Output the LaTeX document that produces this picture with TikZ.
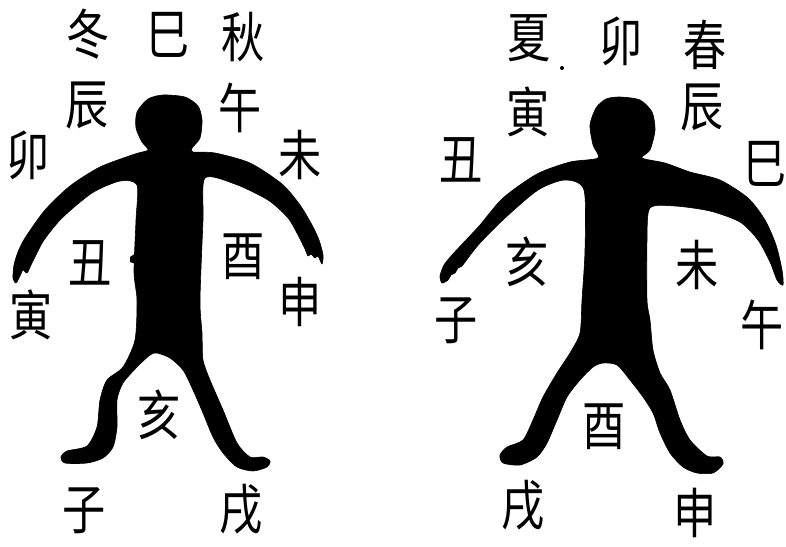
\documentclass[tikz,border=0pt]{standalone}
\usepackage{fontspec}
\newfontfamily\cjk[FakeStretch=0.8]{Noto Sans CJK SC}
\tikzset{
  glyph/.style={font=\cjk\fontsize{54}{54}\selectfont, inner sep=0pt, anchor=center},
  body/.style={fill=black, draw=black, line width=0.6pt, line join=round}
}
\begin{document}
\begin{tikzpicture}[x=1pt,y=-1pt]
\useasboundingbox (0,0) rectangle (786,546);

% ---------- left figure ----------
\fill[body] plot[smooth cycle, tension=0.45] coordinates {
  (163,95) (185,97) (198,106) (202,120) (200,138) (192,148) (193,152)
  (215,153) (250,163) (282,184) (300,205) (312,225) (319,240) (323,255)
  (322,264) (318,256) (315,258) (311,254) (308,256) (305,249)
  (298,235) (288,218) (268,200) (235,184) (205,178)
  (203,220) (200,300) (202,333) (203,360) (210,380) (223,410) (237,443)
  (250,457) (263,457) (270,461) (267,467) (253,471) (237,467) (223,453)
  (213,437) (203,413) (193,390) (183,370) (170,358) (157,353) (150,355)
  (137,367) (123,383) (117,400) (117,427) (113,447) (103,458) (87,463)
  (65,463) (61,457) (67,451) (87,446) (97,427) (100,400) (107,380)
  (123,367) (135,340) (137,300) (134,272) (136,220) (137,185)
  (120,181) (92,193) (62,218) (44,240) (36,255) (31,265) (27,273)
  (23,270) (20,276) (16,283) (13,278) (14,265) (18,252) (25,238)
  (45,210) (70,186) (100,167) (135,154) (148,150) (142,142) (136,128)
  (137,112) (148,99)};
% small nub on the left flank
\fill (130,257) -- (136,253) -- (136,264) -- (130,262) -- cycle;

% ---------- right figure ----------
\fill[body] plot[smooth cycle, tension=0.45] coordinates {
  (620,97) (640,100) (652,112) (655,130) (650,150) (642,158)
  (665,163) (690,172) (720,180) (748,198) (765,220) (776,245) (782,270)
  (783,285) (777,280) (770,262) (758,240) (740,222) (710,211) (675,206)
  (650,208) (647,240) (647,300) (650,320) (653,350) (660,373) (670,390)
  (680,420) (690,440) (707,456) (720,457) (723,464) (713,473) (697,473)
  (683,467) (670,453) (660,433) (653,413) (643,397) (630,380) (617,365)
  (603,363) (593,367) (580,380) (567,397) (557,420) (547,443) (537,457)
  (520,465) (503,463) (500,455) (507,447) (523,440) (533,420) (543,397)
  (557,373) (570,353) (580,333) (582,300) (585,250) (584,190)
  (565,180) (538,190) (505,218)
  (480,243) (468,258) (462,266) (458,268) (455,273) (451,275) (448,280)
  (442,283) (440,276) (444,265) (452,255) (466,240) (480,225) (503,198)
  (537,174) (570,162) (598,158) (593,145) (590,125) (596,108) (606,99)};

% ---------- left labels ----------
\node[glyph] (l1)  at (88,34)   {冬};
\node[glyph] (l2)  at (168,35)  {巳};
\node[glyph] (l3)  at (243,37)  {秋};
\node[glyph] (l4)  at (87,106)  {辰};
\node[glyph] (l5)  at (240,108) {午};
\node[glyph] (l6)  at (28,155)  {卯};
\node[glyph] (l7)  at (300,155) {未};
\node[glyph] (l8)  at (90,263)  {丑};
\node[glyph] (l9)  at (243,257) {酉};
\node[glyph] (l10) at (31,315)  {寅};
\node[glyph] (l11) at (300,302) {申};
\node[glyph] (l12) at (159,415) {亥};
\node[glyph] (l13) at (84,511)  {子};
\node[glyph] (l14) at (241,509) {戌};

% ---------- right labels ----------
\node[glyph] (r1)  at (529,38)  {夏};
\fill (562,68) circle (2pt);
\node[glyph] (r2)  at (621,41)  {卯};
\node[glyph] (r3)  at (705,45)  {春};
\node[glyph] (r4)  at (528,112) {寅};
\node[glyph] (r5)  at (702,108) {辰};
\node[glyph] (r6)  at (461,160) {丑};
\node[glyph] (r7)  at (765,164) {巳};
\node[glyph] (r8)  at (527,262) {亥};
\node[glyph] (r9)  at (697,265) {未};
\node[glyph] (r10) at (456,321) {子};
\node[glyph] (r11) at (762,325) {午};
\node[glyph] (r12) at (604,427) {酉};
\node[glyph] (r13) at (523,505) {戌};
\node[glyph] (r14) at (695,513) {申};
\end{tikzpicture}
\end{document}
